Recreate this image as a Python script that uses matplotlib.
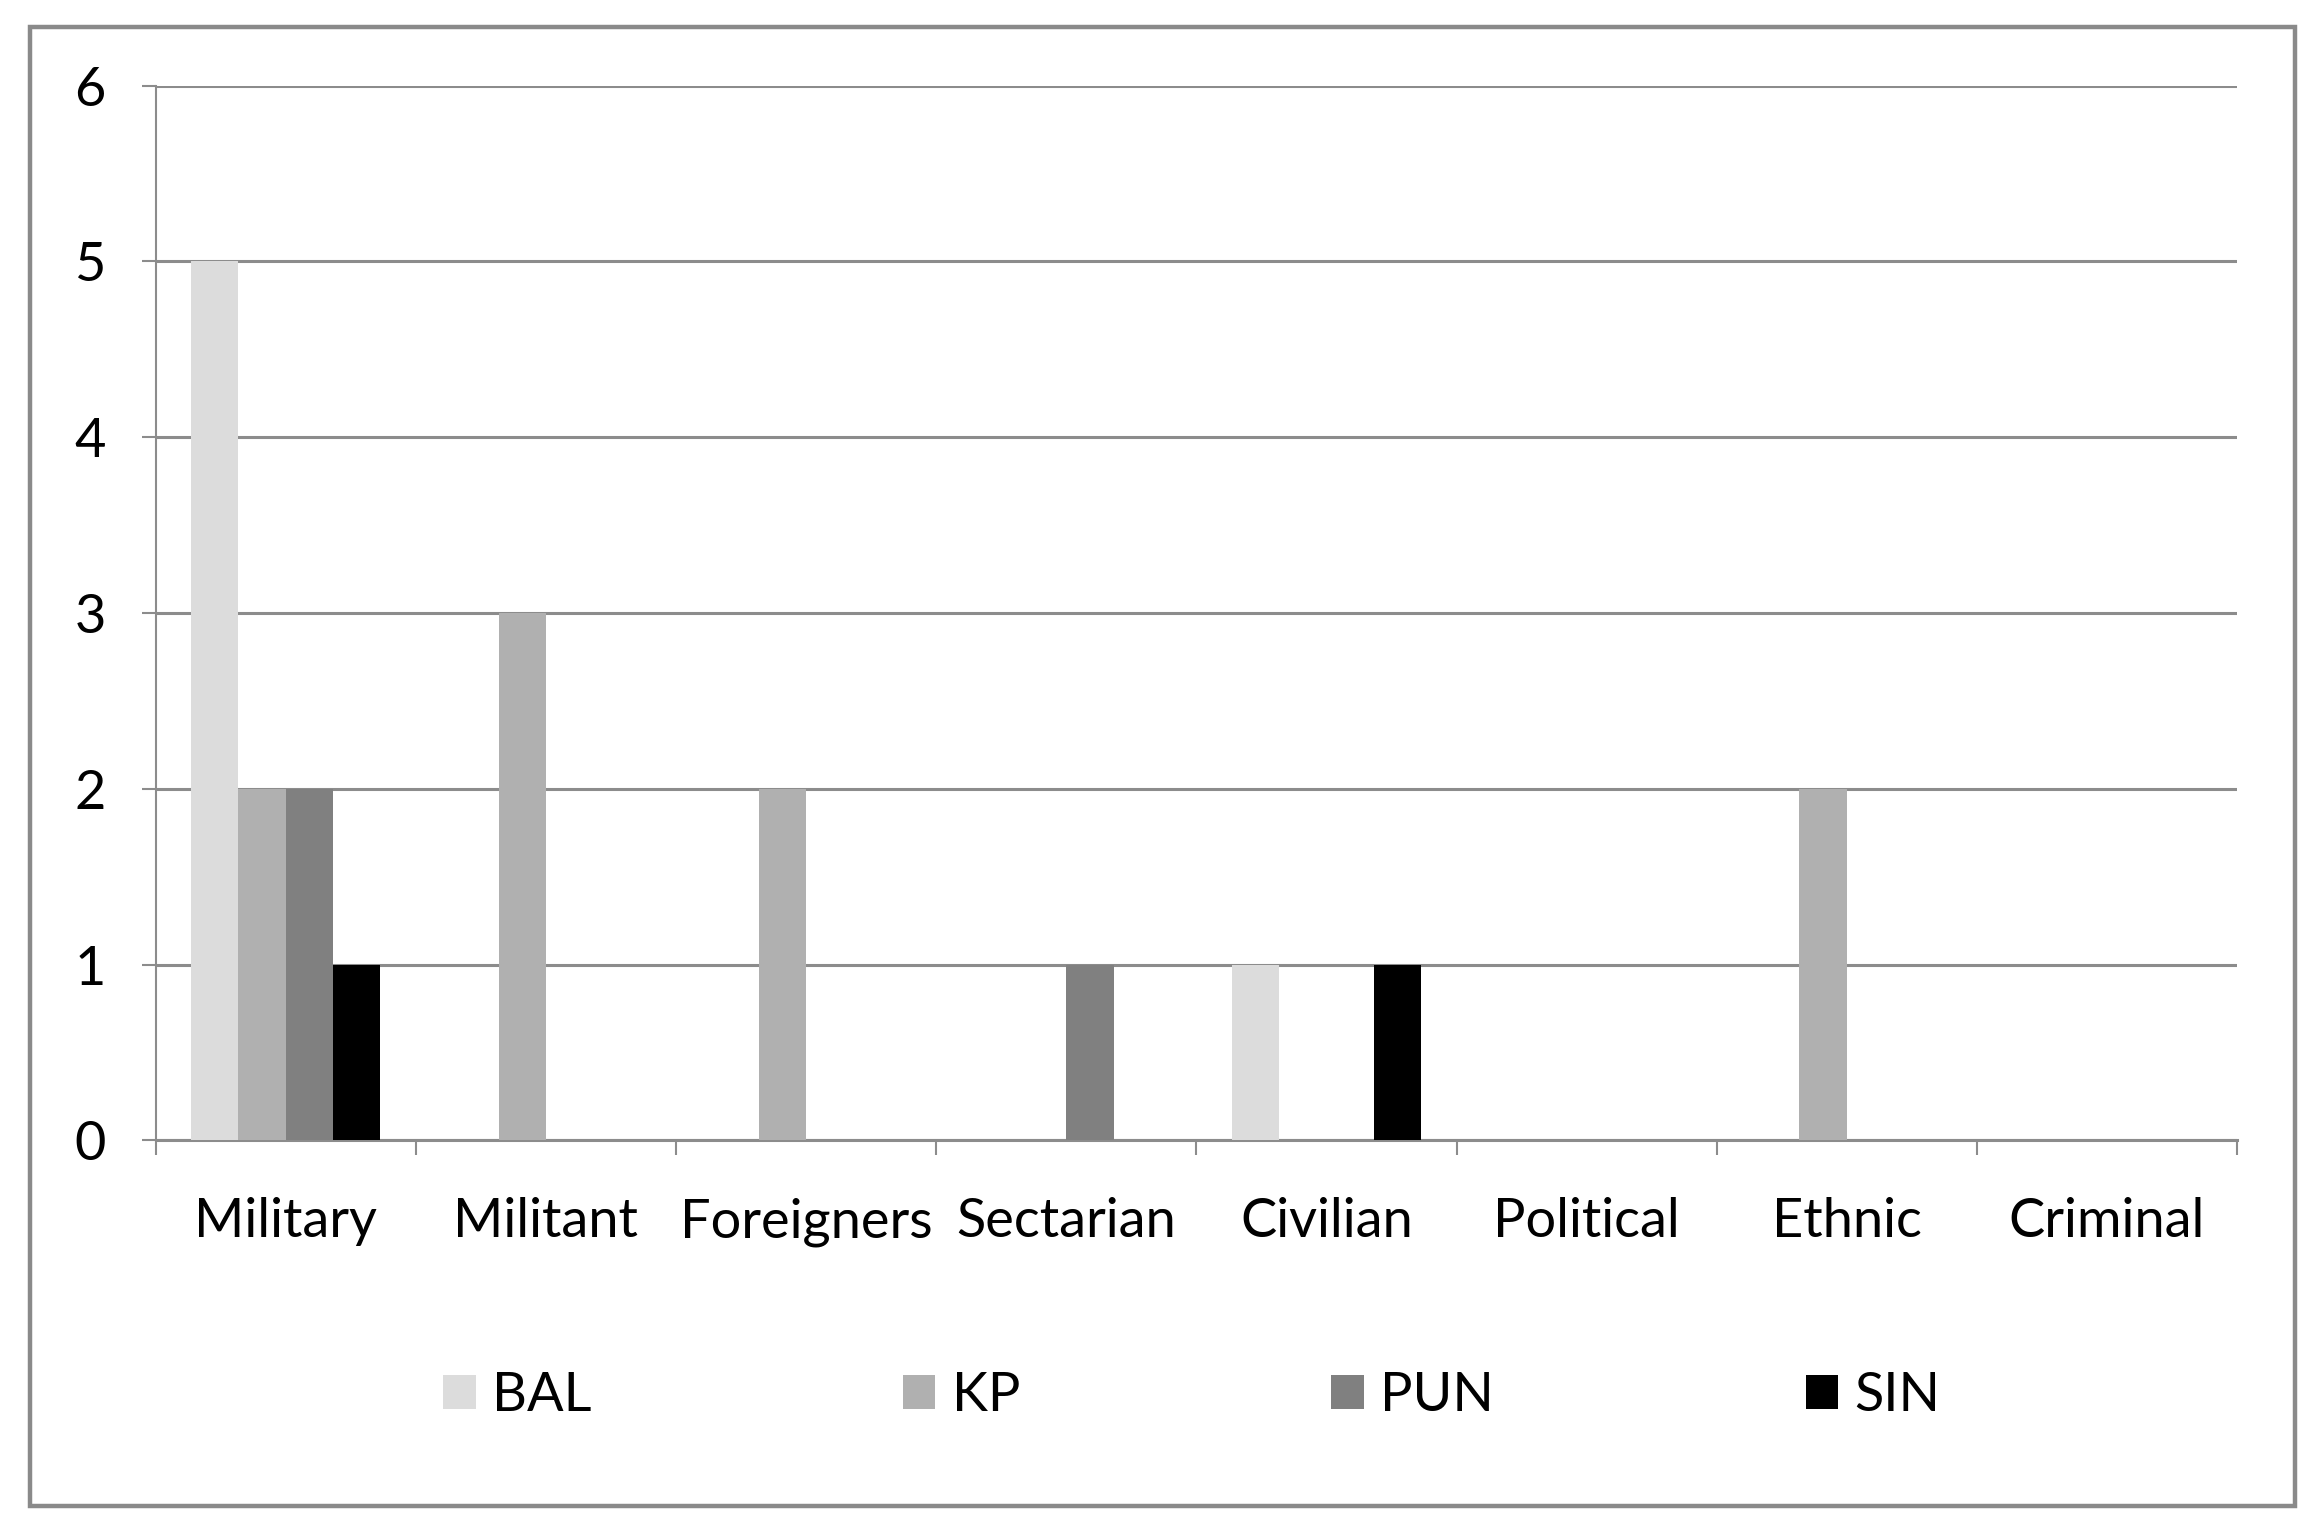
import matplotlib
matplotlib.use("Agg")
import matplotlib.pyplot as plt
from matplotlib.patches import Rectangle
import numpy as np

plt.rcParams['font.family'] = ['Lato', 'DejaVu Sans']

categories = ["Military", "Militant", "Foreigners", "Sectarian",
              "Civilian", "Political", "Ethnic", "Criminal"]
series = ["BAL", "KP", "PUN", "SIN"]
bal = [5, 0, 0, 0, 1, 0, 0, 0]
kp = [2, 3, 2, 0, 0, 0, 2, 0]
pun = [2, 0, 0, 1, 0, 0, 0, 0]
sin = [1, 0, 0, 0, 1, 0, 0, 0]
values = [bal, kp, pun, sin]
colors = ["#dcdcdc", "#b0b0b0", "#808080", "#000000"]
y_ticks = [0, 1, 2, 3, 4, 5, 6]

fig = plt.figure(figsize=(23.23, 15.30), dpi=100)
ax = fig.add_axes([0.067, 0.2546, 0.896, 0.6894])

x = np.arange(len(categories))
w = 0.182
handles = []
for i, (name, vals, col) in enumerate(zip(series, values, colors)):
    offs = (i - 1.5) * w
    h = ax.bar(x + offs, vals, width=w, color=col, label=name, zorder=3,
               linewidth=0)
    handles.append(h)

ax.set_xlim(-0.5, len(categories) - 0.5)
ax.set_ylim(0, 6)
ax.set_yticks(y_ticks)
ax.set_yticklabels([str(t) for t in y_ticks])
ax.yaxis.grid(True, color="#8c8c8c", linewidth=2.2, zorder=0)
ax.set_axisbelow(True)

ax.set_xticks(x)
ax.set_xticklabels(categories)
ax.set_xticks(np.arange(len(categories) + 1) - 0.5, minor=True)
ax.tick_params(axis="x", which="major", length=0, pad=41, labelsize=39)
ax.tick_params(axis="x", which="minor", length=11, width=1.5, color="#8c8c8c")
ax.tick_params(axis="y", length=10, width=1.5, color="#8c8c8c", pad=26,
               labelsize=39)

for s in ["top", "right"]:
    ax.spines[s].set_visible(False)
ax.spines["left"].set_color("#8c8c8c")
ax.spines["left"].set_linewidth(1.5)
ax.spines["bottom"].set_color("#8c8c8c")
ax.spines["bottom"].set_linewidth(2.2)

fig.legend(handles=handles, labels=series, loc="center",
           bbox_to_anchor=(0.513, 0.088), ncol=4, frameon=False,
           fontsize=39, handlelength=0.6, handleheight=0.6,
           handletextpad=0.3, columnspacing=5.75)

fig.patches.append(Rectangle((0.0128, 0.0155), 0.9751, 0.9671,
                             transform=fig.transFigure, fill=False,
                             edgecolor="#8a8a8a", linewidth=3.2))

fig.savefig("out.png", dpi=100)
